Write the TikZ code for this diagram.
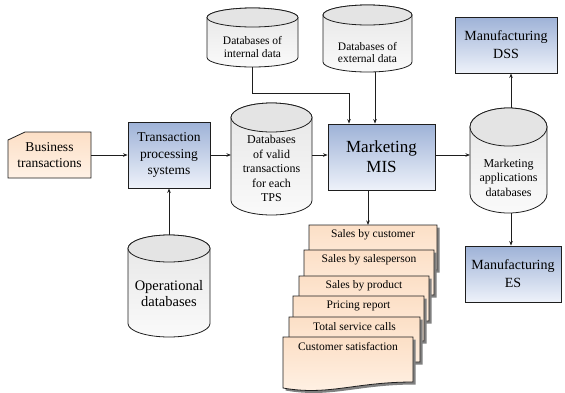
\documentclass[tikz,border=0pt]{standalone}
\usepackage{fontspec}
\setmainfont{Liberation Serif}
\usetikzlibrary{arrows.meta,calc}
\definecolor{bluetop}{HTML}{9EB2D7}
\definecolor{bluebot}{HTML}{EEF2FA}
\definecolor{peachtop}{HTML}{FCDFC6}
\definecolor{peachbot}{HTML}{FFF2E6}
\definecolor{cyltop}{HTML}{E6E6E6}
\definecolor{cylbot}{HTML}{FAFAFA}
\definecolor{cylend}{HTML}{E4E4E4}
\definecolor{edge}{HTML}{1E1E1E}
\definecolor{shade}{HTML}{808080}
\newcommand\btxt{\fontsize{13.5}{16.5}\selectfont}
\newcommand\tpstxt{\fontsize{13.5}{16.5}\selectfont}
\newcommand\mistxt{\fontsize{17}{20}\selectfont}
\newcommand\mfgtxt{\fontsize{14}{18}\selectfont}
\newcommand\smalltxt{\fontsize{11.5}{12.5}\selectfont}
\newcommand\vdbtxt{\fontsize{12}{14.5}\selectfont}
\newcommand\optxt{\fontsize{14.5}{16.7}\selectfont}
\newcommand\doctxt{\fontsize{11.5}{13}\selectfont}
\tikzset{
 box/.style={draw=edge, line width=0.9pt, top color=bluetop, bottom color=bluebot, align=center, inner sep=0pt},
 cylbody/.style={draw=edge, line width=0.8pt, top color=cyltop, bottom color=cylbot},
 cylcap/.style={draw=edge, line width=0.8pt, fill=cylend},
 holder/.style={inner sep=0pt, outer sep=0pt},
 lbl/.style={align=center, inner sep=0pt},
 docshape/.style={draw=edge, line width=0.8pt, top color=peachtop, bottom color=peachbot},
 docshadow/.style={fill=shade},
 conn/.style={draw=edge, line width=0.8pt, -{Stealth[length=4.5pt,width=3.5pt]}},
}
% name, x1, top, x2, bot, ry, text shift (down), font, text
\newcommand\mkcyl[9]{%
 \pgfmathsetmacro\cRx{(#4-#2)/2}%
 \pgfmathsetmacro\cCx{(#4+#2)/2}%
 \pgfmathsetmacro\cTy{-(#3+#6)}%
 \pgfmathsetmacro\cBy{-(#5-#6)}%
 \pgfmathsetmacro\cW{#4-#2}%
 \pgfmathsetmacro\cH{#5-#3}%
 \pgfmathsetmacro\cMy{-(#3+#5)/2}%
 \pgfmathsetmacro\cLy{-((#3+2*#6+#5)/2+(#7))}%
 \path[cylbody] (#2,\cTy) -- (#2,\cBy) arc[start angle=180,end angle=360,x radius=\cRx,y radius=#6] -- (#4,\cTy) arc[start angle=0,end angle=180,x radius=\cRx,y radius=#6] -- cycle;
 \path[cylcap] (\cCx,\cTy) ellipse[x radius=\cRx,y radius=#6];
 \node[holder, minimum width=\cW pt, minimum height=\cH pt] (#1) at (\cCx,\cMy) {};
 \node[lbl, font=#8] (#1-t) at (\cCx,\cLy) {#9};
}
% name, x1, x2, top, text
\newcommand\mkdoc[5]{%
 \pgfmathsetmacro\dW{#3-#2}%
 \pgfmathsetmacro\dT{-(#4)}%
 \pgfmathsetmacro\dB{-(#4+45)}%
 \pgfmathsetmacro\dCa{#3-0.45*\dW}%
 \pgfmathsetmacro\dCb{#2+0.35*\dW}%
 \pgfmathsetmacro\dYb{-(#4+45+14)}%
 \pgfmathsetmacro\dYe{-(#4+45+6)}%
 \pgfmathsetmacro\dCx{(#2+#3)/2}%
 \pgfmathsetmacro\dLy{-(#4+9.5)}%
 \path[docshadow, shift={(2.5,-2.5)}] (#2,\dT) -- (#3,\dT) -- (#3,\dB) .. controls (\dCa,\dB) and (\dCb,\dYb) .. (#2,\dYe) -- cycle;
 \path[docshape] (#2,\dT) -- (#3,\dT) -- (#3,\dB) .. controls (\dCa,\dB) and (\dCb,\dYb) .. (#2,\dYe) -- cycle;
 \node[holder, minimum width=\dW pt, minimum height=45pt, anchor=north west] (#1) at (#2,\dT) {};
 \node[lbl, font=\doctxt] (#1-t) at (\dCx,\dLy) {#5};
}
\begin{document}
\begin{tikzpicture}[x=1pt,y=1pt]
\useasboundingbox (0,0) rectangle (565,-392);
% business transactions card
\path[docshape] (8,-178) -- (8,-140) -- (25,-132) -- (91,-132) -- (91,-178) -- cycle;
\node[holder, align=center, minimum width=83pt, minimum height=46pt, font=\btxt] (bt) at (49.5,-155) {Business\\transactions};
% boxes
\node[box, minimum width=82pt, minimum height=66pt, font=\tpstxt] (tps) at (169,-155) {Transaction\\processing\\systems};
\node[box, minimum width=107pt, minimum height=66pt, font=\mistxt] (mis) at (381.5,-157) {Marketing\\MIS};
\node[box, minimum width=102pt, minimum height=56pt, font=\mfgtxt] (dss) at (506,-45) {Manufacturing\\DSS};
\node[box, minimum width=96pt, minimum height=56pt, font=\mfgtxt] (es) at (513,-274) {Manufacturing\\ES};
% cylinders
\mkcyl{intdb}{207}{8}{298}{67}{9.5}{0}{\smalltxt}{Databases of\\internal data}
\mkcyl{extdb}{323}{5}{412}{72}{10}{4}{\smalltxt}{Databases of\\external data}
\mkcyl{vdb}{231}{103}{312}{215}{14.5}{-5}{\vdbtxt}{Databases\\of valid\\transactions\\for each\\TPS}
\mkcyl{madb}{470}{108}{547}{213}{19}{-2}{\vdbtxt}{Marketing\\applications\\databases}
\mkcyl{opdb}{128}{235}{210}{337}{13.5}{-6}{\optxt}{Operational\\databases}
% reports
\mkdoc{d1}{309}{437}{225}{Sales by customer}
\mkdoc{d2}{304}{434}{250}{Sales by salesperson}
\mkdoc{d3}{299}{429}{276}{Sales by product}
\mkdoc{d4}{293}{424}{296}{Pricing report}
\mkdoc{d5}{289}{420}{317}{Total service calls}
\mkdoc{d6}{283}{413}{337}{Customer satisfaction}
% connectors
\draw[conn] (bt.east) -- (tps.west);
\draw[conn] (tps.east) -- (tps.east -| vdb.west);
\draw[conn] (tps.east -| vdb.east) -- (tps.east -| mis.west);
\draw[conn] (tps.east -| mis.east) -- (tps.east -| madb.west);
\draw[conn] (opdb.north) -- (opdb.north |- tps.south);
\coordinate (jn) at (349,-93);
\draw[conn] (intdb.south) |- (jn) -- (jn |- mis.north);
\coordinate (ex) at ([xshift=7.5pt]extdb.south);
\draw[conn] (ex) -- (ex |- mis.north);
\coordinate (d1a) at ([xshift=-5pt]d1.north);
\draw[conn] (d1a |- mis.south) -- (d1a);
\coordinate (mat) at ([xshift=2.5pt]madb.north);
\coordinate (mab) at ([xshift=2.5pt]madb.south);
\draw[conn] (mat) -- (mat |- dss.south);
\draw[conn] (mab) -- (mab |- es.north);
\end{tikzpicture}
\end{document}
